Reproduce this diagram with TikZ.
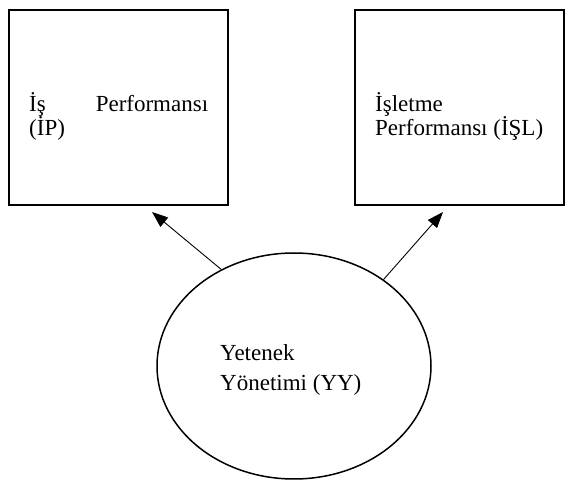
\documentclass[tikz,border=0pt]{standalone}
\usepackage{fontspec}
\setmainfont{Liberation Serif}
\usetikzlibrary{shapes.geometric,arrows.meta}
\begin{document}
\begin{tikzpicture}[x=1pt,y=-1pt,
  boxshape/.style={draw,line width=2pt,rectangle,minimum height=195pt,inner sep=0pt},
  ovalshape/.style={draw,line width=1.5pt,ellipse,minimum width=274pt,minimum height=226pt,inner sep=0pt},
  lbl/.style={font=\fontsize{23}{27}\selectfont,inner sep=0pt,anchor=base west},
  conn/.style={line width=0.9pt,-{Triangle[length=16pt,width=12pt]}}]
\useasboundingbox (0,0) rectangle (566,481);
\node[boxshape,minimum width=219pt] (ip) at (118.5,107.5) {};
\node[boxshape,minimum width=209pt] (isl) at (459.5,108) {};
\node[ovalshape] (yy) at (294,366) {};
\node[lbl,text width=179pt] (ip1) at (29,112) {İş\hfill Performansı};
\node[lbl] (ip2) at (29,136) {(İP)};
\node[lbl] (isl1) at (375,112) {İşletme};
\node[lbl] (isl2) at (375,136) {Performansı (İŞL)};
\node[lbl] (yy1) at (220,361) {Yetenek};
\node[lbl] (yy2) at (220,391) {Yönetimi (YY)};
\coordinate (tipl) at (152,212);
\coordinate (tipr) at (443,212);
\draw[conn] (yy.127.6) -- (tipl);
\draw[conn] (yy.44.7) -- (tipr);
\end{tikzpicture}
\end{document}
